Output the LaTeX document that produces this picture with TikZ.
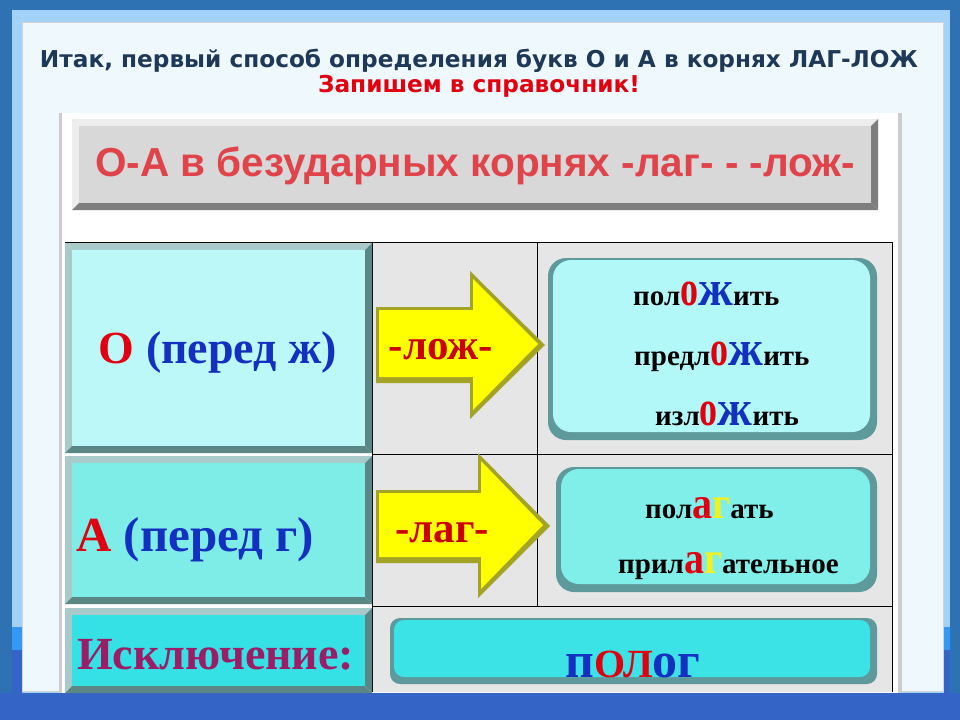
\documentclass[tikz,border=0pt]{standalone}
\usepackage{fontspec}
\usepackage{graphicx}
\setmainfont{Liberation Serif}
\newfontfamily\titlefont{DejaVu Sans}
\newfontfamily\hdrfont{Liberation Sans}
\definecolor{outerblue}{HTML}{2E72B4}
\definecolor{bandblue}{HTML}{3464C6}
\definecolor{stripblue}{HTML}{A3D2F8}
\definecolor{brightblue}{HTML}{3399F5}
\definecolor{panelbg}{HTML}{EEF8FD}
\definecolor{titlenavy}{HTML}{1E3858}
\definecolor{titlered}{HTML}{E2000E}
\definecolor{hdrred}{HTML}{E0434A}
\definecolor{hdrface}{HTML}{D8D8D8}
\definecolor{hdrlight}{HTML}{EDEDED}
\definecolor{hdrdark}{HTML}{7E7E7E}
\definecolor{cellgray}{HTML}{E6E6E6}
\definecolor{faceA}{HTML}{BDF8F8}
\definecolor{faceB}{HTML}{7EEDE8}
\definecolor{faceC}{HTML}{36E1E6}
\definecolor{bevlight}{HTML}{A8CACA}
\definecolor{bevdark}{HTML}{5A8686}
\definecolor{rshadow}{HTML}{5E9A9C}
\definecolor{rfaceA}{HTML}{B2F8F9}
\definecolor{rfaceB}{HTML}{80EFEA}
\definecolor{rfaceC}{HTML}{3BE2E6}
\definecolor{arrowyel}{HTML}{FFFF00}
\definecolor{arrowolive}{HTML}{A3A326}
\definecolor{arrowred}{HTML}{CC0000}
\definecolor{txtred}{HTML}{E00010}
\definecolor{txtblue}{HTML}{1430C0}
\definecolor{txtyel}{HTML}{F2F21A}
\definecolor{txtpurple}{HTML}{9C1C66}
\newcommand\fsz[1]{\fontsize{#1}{#1}\selectfont}
\newcommand\cltr[5]{\textcolor{#1}{\scalebox{#3}[#4]{\fsz{#2}#5}}}
\newcommand\bevbox[8]{%
  \fill[#7] (#1,#2) -- (#3,#2) -- ({#3-#5},{#2+#5}) -- ({#1+#5},{#2+#5}) -- cycle;
  \fill[#7] (#1,#2) -- ({#1+#5},{#2+#5}) -- ({#1+#5},{#4-#5}) -- (#1,#4) -- cycle;
  \fill[#8] (#3,#2) -- (#3,#4) -- ({#3-#5},{#4-#5}) -- ({#3-#5},{#2+#5}) -- cycle;
  \fill[#8] (#1,#4) -- (#3,#4) -- ({#3-#5},{#4-#5}) -- ({#1+#5},{#4-#5}) -- cycle;
  \fill[#6] ({#1+#5},{#2+#5}) rectangle ({#3-#5},{#4-#5});
}
\tikzset{
  word/.style={anchor=base west, inner sep=0pt, font=\bfseries\fsz{29}},
  rbox/.style={rounded corners=18pt},
}
\begin{document}
\begin{tikzpicture}[x=1pt,y=-1pt]
\useasboundingbox (0,0) rectangle (960,720);
% slide background
\fill[outerblue] (0,0) rectangle (960,720);
\fill[stripblue] (12,10) rectangle (950,694);
\fill[brightblue] (12,627) rectangle (22,694) (944,627) rectangle (950,694);
\fill[bandblue] (12,650) rectangle (22,694) (944,650) rectangle (950,694);
\fill[bandblue] (0,693) rectangle (960,720);
\fill[panelbg] (22,22) rectangle (944,692);
\draw[gray!35, line width=0.8pt] (22.5,22.5) rectangle (943.5,691.5);
% title
\node[font=\titlefont\bfseries\fsz{23.2}, text=titlenavy, inner sep=0pt, anchor=base] (title) at (479,67) {Итак, первый способ определения букв О и А в корнях ЛАГ-ЛОЖ};
\node[font=\titlefont\bfseries\fsz{23.2}, text=titlered, inner sep=0pt, anchor=base] (subtitle) at (479,92) {Запишем в справочник!};
% white sheet
\fill[gray!40] (59,113) rectangle (902,693);
\fill[white] (62,113) rectangle (898,693);
% header bevel box
\bevbox{72}{119}{878}{210}{7}{hdrface}{hdrlight}{hdrdark}
\node[font=\hdrfont\bfseries\fsz{40.5}, text=hdrred, inner sep=0pt] (hdr) at (475,166) {О-А в безударных корнях -лаг- - -лож-};
% table cells
\fill[cellgray] (372,242) rectangle (892,692);
\draw[black, line width=0.8pt] (65,242) -- (892,242) (372,454) -- (892,454) (372,606) -- (892,606)
  (372,242) -- (372,692) (537,242) -- (537,606) (892,242) -- (892,692);
% left bevel cells
\bevbox{65}{243}{372}{453}{7}{faceA}{bevlight}{bevdark}
\bevbox{65}{456}{372}{604}{7}{faceB}{bevlight}{bevdark}
\bevbox{65}{608}{372}{693}{7}{faceC}{bevlight}{bevdark}
\node[font=\bfseries\fsz{46}, inner sep=0pt] (ruleO) at (218,352) {\textcolor{txtred}{О} \textcolor{txtblue}{(перед ж)}};
\node[font=\bfseries\fsz{49}, inner sep=0pt, anchor=west] (ruleA) at (76,540) {\textcolor{txtred}{А} \textcolor{txtblue}{(перед г)}};
\node[font=\bfseries\fsz{46}, text=txtpurple, inner sep=0pt, anchor=west] (exc) at (77,655) {Исключение:};
% arrows
\fill[arrowolive] (376,307) -- (470,307) -- (470,271) -- (545,345) -- (470,419) -- (470,383) -- (376,383) -- cycle;
\fill[arrowyel] (379,310) -- (473,310) -- (473,279) -- (538,344) -- (473,410) -- (473,377) -- (379,377) -- cycle;
\node[font=\bfseries\fsz{43}, text=arrowred, inner sep=0pt] (lozh) at (441,350) {-лож-};
\fill[arrowolive] (376,490) -- (478,490) -- (478,453) -- (550,526) -- (478,598) -- (478,563) -- (376,563) -- cycle;
\fill[arrowyel] (379,493) -- (481,493) -- (481,461) -- (543,525) -- (481,589) -- (481,557) -- (379,557) -- cycle;
\node[font=\bfseries\fsz{43}, text=arrowred, inner sep=0pt] (lag) at (442,533) {-лаг-};
% right rounded boxes
\fill[rshadow, rbox] (548,258) rectangle (877,440);
\fill[rfaceA, rbox] (553,260) rectangle (870,432);
\fill[rshadow, rbox] (556,467) rectangle (877,592);
\fill[rfaceB, rbox] (561,469) rectangle (870,584);
\fill[rshadow, rounded corners=10pt] (390,618) rectangle (877,684);
\fill[rfaceC, rounded corners=10pt] (394,620) rectangle (870,677);
% words
\node[word] (w1) at (633,305) {пол\cltr{txtred}{40}{0.9}{1.25}{о}\cltr{txtblue}{40}{1.2}{1.25}{ж}ить};
\node[word] (w2) at (634,365) {предл\cltr{txtred}{40}{0.9}{1.25}{о}\cltr{txtblue}{40}{1.2}{1.25}{ж}ить};
\node[word] (w3) at (655,425) {изл\cltr{txtred}{40}{0.9}{1.25}{о}\cltr{txtblue}{40}{1.2}{1.25}{ж}ить};
\node[word] (w4) at (645,518) {пол\cltr{txtred}{40}{1}{1.12}{а}\cltr{txtyel}{40}{1}{1.12}{г}ать};
\node[word] (w5) at (618,573) {прил\cltr{txtred}{40}{1}{1.12}{а}\cltr{txtyel}{40}{1}{1.12}{г}ательное};
\node[word, font=\bfseries\fsz{50}] (polog) at (565,677) {\textcolor{txtblue}{п}\textcolor{txtred}{\fsz{40}ОЛ}\textcolor{txtblue}{ог}};
\end{tikzpicture}
\end{document}
